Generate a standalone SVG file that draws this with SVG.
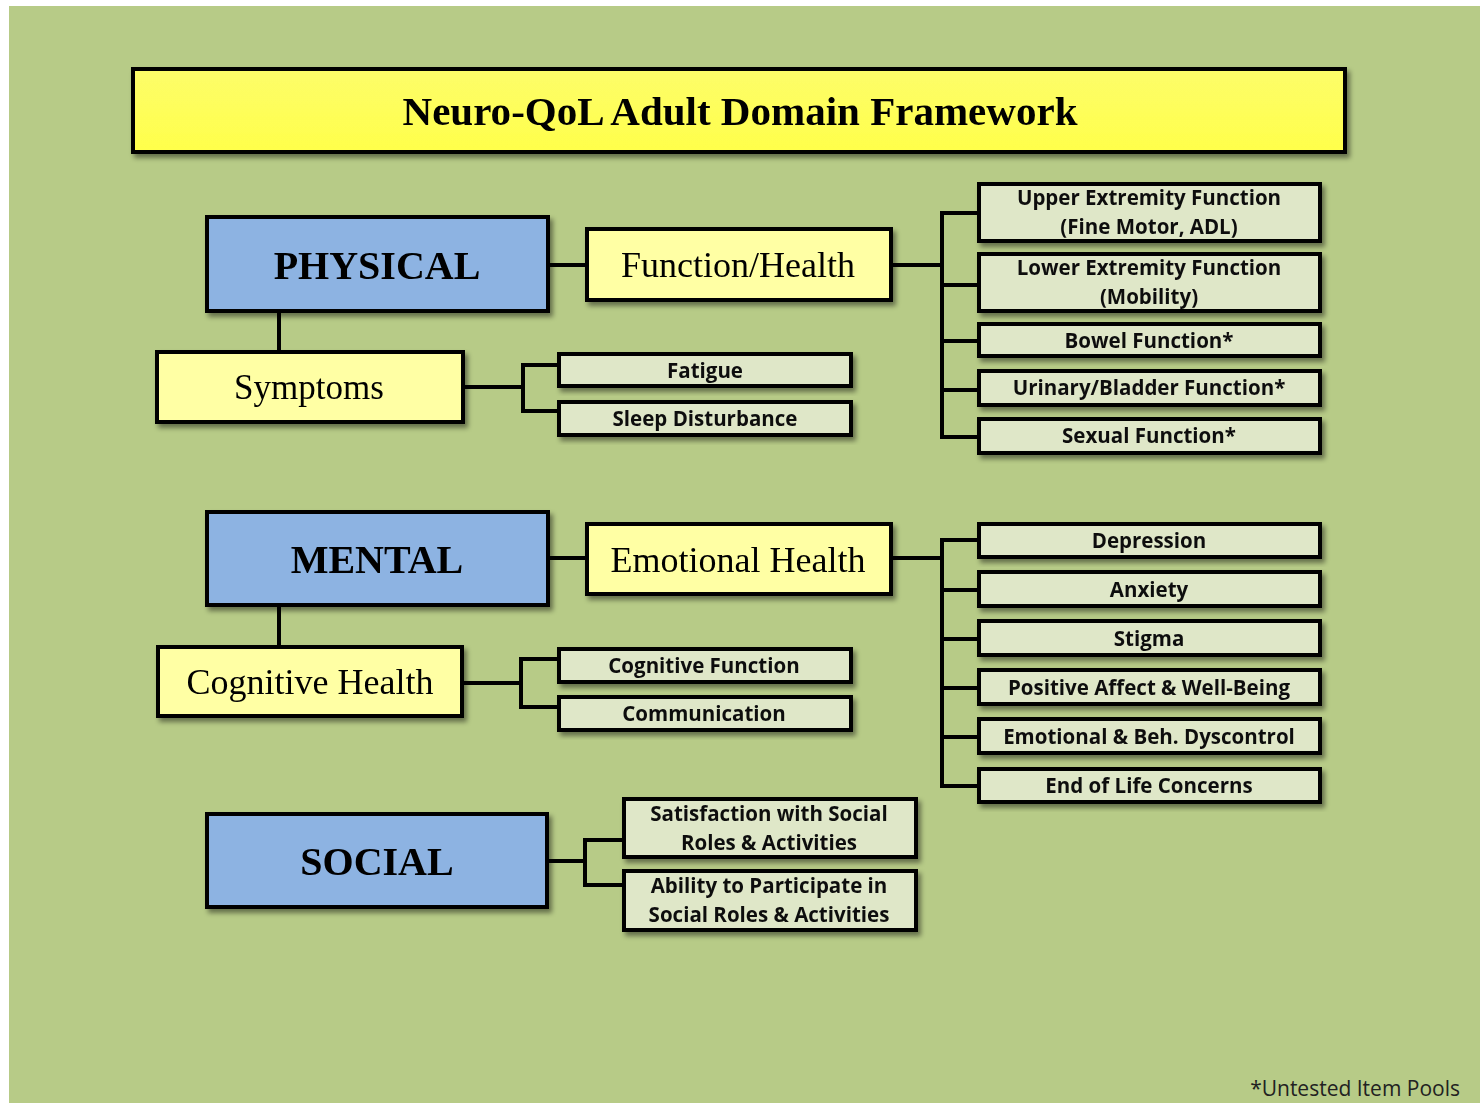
<svg xmlns="http://www.w3.org/2000/svg" width="1483" height="1103" viewBox="0 0 1483 1103">
<defs>
<filter id="sh" x="-10%" y="-20%" width="130%" height="150%">
<feDropShadow dx="3" dy="4" stdDeviation="2.5" flood-color="#000" flood-opacity="0.45"/>
</filter>
<linearGradient id="gy" x1="0" y1="0" x2="0" y2="1"><stop offset="0" stop-color="#fdfd6a"/><stop offset="1" stop-color="#ffff4a"/></linearGradient>
<style>
.bx{stroke:#000;stroke-width:4}
.title{fill:url(#gy)}
.blue{fill:#8db3e2}
.ly{fill:#ffffa4}
.gr{fill:#dfe7c8}
.tt{font-family:"Liberation Serif","Times New Roman",serif;fill:#000;text-anchor:middle}
.tb{font-weight:bold}
.sm{font-family:"Open Sans",Lato,sans-serif;font-weight:bold;font-size:20.5px;fill:#111;text-anchor:middle}
.cn{stroke:#000;stroke-width:4;fill:none;stroke-linecap:square}
</style>
</defs>
<rect x="0" y="0" width="1483" height="1103" fill="#ffffff"/>
<rect x="9" y="6" width="1471" height="1097" fill="#b7cb87"/>

<g id="connectors">
<path class="cn" d="M550 265H585M279 313V350M465 387H523M523 365V411M523 365H557M523 411H557"/>
<path class="cn" d="M893 265H942M942 213V437M942 213H977M942 285H977M942 341H977M942 390H977M942 437H977"/>
<path class="cn" d="M550 558H585M279 607V645M464 683H521M521 659V707M521 659H557M521 707H557"/>
<path class="cn" d="M893 558H942M942 540V786M942 540H977M942 590H977M942 639H977M942 688H977M942 737H977M942 786H977"/>
<path class="cn" d="M549 861H585M585 840V885M585 840H622M585 885H622"/>
</g>

<g id="title" filter="url(#sh)">
<rect class="bx title" x="133" y="69" width="1212" height="83"/>
<text class="tt tb" x="740" y="125" font-size="40" textLength="675" lengthAdjust="spacingAndGlyphs">Neuro-QoL Adult Domain Framework</text>
</g>

<g id="physical" filter="url(#sh)">
<rect class="bx blue" x="207" y="217" width="341" height="94"/>
<text class="tt tb" x="377" y="279" font-size="40">PHYSICAL</text>
</g>
<g id="function-health" filter="url(#sh)">
<rect class="bx ly" x="587" y="229" width="304" height="71"/>
<text class="tt" x="738" y="277" font-size="36">Function/Health</text>
</g>
<g id="symptoms" filter="url(#sh)">
<rect class="bx ly" x="157" y="352" width="306" height="70"/>
<text class="tt" x="309" y="399" font-size="35">Symptoms</text>
</g>
<g id="fatigue" filter="url(#sh)">
<rect class="bx gr" x="559" y="354" width="292" height="32"/>
<text class="sm" x="705" y="378">Fatigue</text>
</g>
<g id="sleep" filter="url(#sh)">
<rect class="bx gr" x="559" y="402" width="292" height="33"/>
<text class="sm" x="705" y="426">Sleep Disturbance</text>
</g>

<g id="upper" filter="url(#sh)">
<rect class="bx gr" x="979" y="184" width="341" height="57"/>
<text class="sm" x="1149" y="205">Upper Extremity Function</text>
<text class="sm" x="1149" y="234">(Fine Motor, ADL)</text>
</g>
<g id="lower" filter="url(#sh)">
<rect class="bx gr" x="979" y="254" width="341" height="57"/>
<text class="sm" x="1149" y="275">Lower Extremity Function</text>
<text class="sm" x="1149" y="304">(Mobility)</text>
</g>
<g id="bowel" filter="url(#sh)">
<rect class="bx gr" x="979" y="324" width="341" height="32"/>
<text class="sm" x="1149" y="348">Bowel Function*</text>
</g>
<g id="urinary" filter="url(#sh)">
<rect class="bx gr" x="979" y="371" width="341" height="34"/>
<text class="sm" x="1149" y="395">Urinary/Bladder Function*</text>
</g>
<g id="sexual" filter="url(#sh)">
<rect class="bx gr" x="979" y="419" width="341" height="34"/>
<text class="sm" x="1149" y="443">Sexual Function*</text>
</g>

<g id="mental" filter="url(#sh)">
<rect class="bx blue" x="207" y="512" width="341" height="93"/>
<text class="tt tb" x="377" y="573" font-size="40">MENTAL</text>
</g>
<g id="emotional-health" filter="url(#sh)">
<rect class="bx ly" x="587" y="524" width="304" height="70"/>
<text class="tt" x="738" y="572" font-size="36">Emotional Health</text>
</g>
<g id="cognitive-health" filter="url(#sh)">
<rect class="bx ly" x="158" y="647" width="304" height="69"/>
<text class="tt" x="310" y="694" font-size="36">Cognitive Health</text>
</g>
<g id="cognitive-function" filter="url(#sh)">
<rect class="bx gr" x="559" y="649" width="292" height="33"/>
<text class="sm" x="704" y="673">Cognitive Function</text>
</g>
<g id="communication" filter="url(#sh)">
<rect class="bx gr" x="559" y="697" width="292" height="33"/>
<text class="sm" x="704" y="721">Communication</text>
</g>

<g id="depression" filter="url(#sh)">
<rect class="bx gr" x="979" y="524" width="341" height="33"/>
<text class="sm" x="1149" y="548">Depression</text>
</g>
<g id="anxiety" filter="url(#sh)">
<rect class="bx gr" x="979" y="572" width="341" height="34"/>
<text class="sm" x="1149" y="597">Anxiety</text>
</g>
<g id="stigma" filter="url(#sh)">
<rect class="bx gr" x="979" y="621" width="341" height="34"/>
<text class="sm" x="1149" y="646">Stigma</text>
</g>
<g id="positive-affect" filter="url(#sh)">
<rect class="bx gr" x="979" y="670" width="341" height="34"/>
<text class="sm" x="1149" y="695">Positive Affect &amp; Well-Being</text>
</g>
<g id="dyscontrol" filter="url(#sh)">
<rect class="bx gr" x="979" y="719" width="341" height="34"/>
<text class="sm" x="1149" y="744">Emotional &amp; Beh. Dyscontrol</text>
</g>
<g id="end-of-life" filter="url(#sh)">
<rect class="bx gr" x="979" y="769" width="341" height="33"/>
<text class="sm" x="1149" y="793">End of Life Concerns</text>
</g>

<g id="social" filter="url(#sh)">
<rect class="bx blue" x="207" y="814" width="340" height="93"/>
<text class="tt tb" x="377" y="875" font-size="40">SOCIAL</text>
</g>
<g id="satisfaction" filter="url(#sh)">
<rect class="bx gr" x="624" y="799" width="292" height="58"/>
<text class="sm" x="769" y="821">Satisfaction with Social</text>
<text class="sm" x="769" y="850">Roles &amp; Activities</text>
</g>
<g id="ability" filter="url(#sh)">
<rect class="bx gr" x="624" y="871" width="292" height="59"/>
<text class="sm" x="769" y="893">Ability to Participate in</text>
<text class="sm" x="769" y="922">Social Roles &amp; Activities</text>
</g>

<text x="1460" y="1096" font-family="'Open Sans',Lato,sans-serif" font-size="21" fill="#222" text-anchor="end">*Untested Item Pools</text>
</svg>
